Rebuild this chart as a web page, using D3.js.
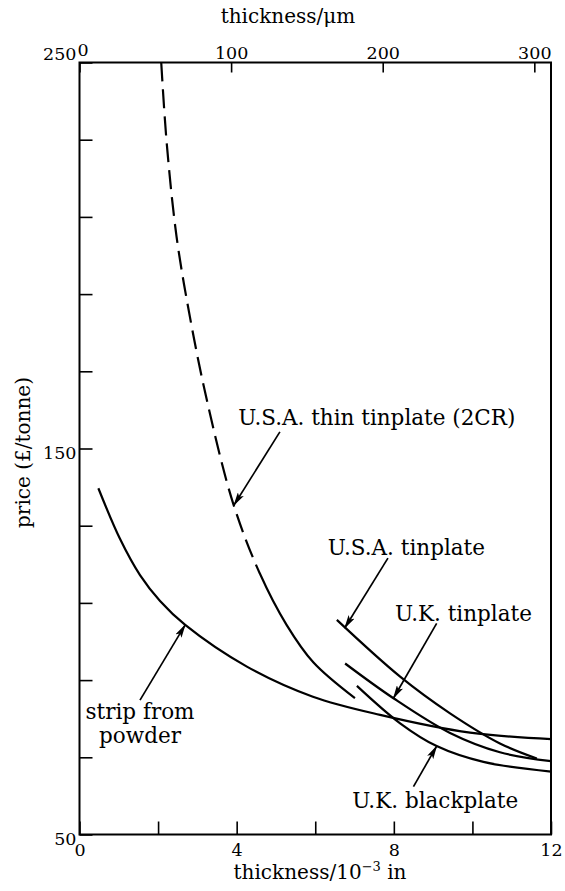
<!DOCTYPE html>
<html>
<head>
<meta charset="utf-8">
<script src="https://cdn.jsdelivr.net/npm/d3@7"></script>
<style>
  body { margin: 0; background: #fff; }
  svg { display: block; font-family: "DejaVu Serif", serif; }
</style>
</head>
<body>
<div id="chart"></div>
<script>
// values: [thickness (10^-3 in), price (£/tonne)]
const stripFromPowder = [[0.48, 139.7], [1.03, 126.6], [1.54, 117.2], [2.05, 110.5], [2.69, 104.3], [4.26, 93.5], [5.94, 85.7], [7.65, 81.0], [9.94, 76.4], [12, 74.7]];
const usaThin2CR = [[2.08, 250], [2.22, 229.1], [2.47, 204.9], [2.81, 184.1], [3.24, 162.6], [3.91, 135.8], [4.59, 117.6], [5.27, 104.3], [5.95, 94.6], [7.01, 85.3]];
const usaThinDashedUntil = 4.57; // below this thickness the 2CR curve is drawn dashed
const usaTinplate = [[6.55, 105.6], [8.16, 90.9], [9.43, 81.4], [10.7, 73.6], [11.64, 69.7]];
const ukTinplate = [[6.76, 94.3], [7.99, 85.3], [9.43, 76.3], [10.7, 71.3], [12, 69.0]];
const ukBlackplate = [[7.06, 88.5], [8.16, 78.8], [9.09, 72.9], [10.28, 68.8], [12, 66.3]];

const xTicks = [0, 2, 4, 6, 8, 10, 12];
const xTickLabels = [0, 4, 8, 12];
const yTicks = [50, 70, 90, 110, 130, 150, 170, 190, 210, 230, 250];
const yTickLabels = [50, 150, 250];
const umTicks = [0, 100, 200, 300];

// labels and arrows, in data units
const notes = [
  { lines: ["U.S.A. thin tinplate (2CR)"], at: [4.04, 156.1], anchor: "start" },
  { lines: ["U.S.A. tinplate"], at: [6.32, 122.4], anchor: "start" },
  { lines: ["U.K. tinplate"], at: [8.03, 105.3], anchor: "start" },
  { lines: ["U.K. blackplate"], at: [6.94, 56.9], anchor: "start" },
  { lines: ["strip from", "powder"], at: [1.54, 79.9], anchor: "middle" }
];
const arrows = [
  { from: [5.10, 154.3], to: [3.93, 135.3] },
  { from: [7.85, 121.6], to: [6.75, 103.5] },
  { from: [9.09, 104.7], to: [7.99, 85.3] },
  { from: [8.50, 62.4], to: [9.09, 72.9] },
  { from: [1.54, 84.8], to: [2.69, 104.3] }
];

const width = 565, height = 891;
const margin = { top: 62.5, right: 14, bottom: 56.5, left: 79.5 };

const svg = d3.select("#chart")
  .append("svg")
    .attr("width", width)
    .attr("height", height);

const xScale = d3.scaleLinear()
  .domain([0, 12])
  .range([margin.left, width - margin.right]);

// the micrometre scale on top of the original is drawn a touch short
const xTopScale = d3.scaleLinear()
  .domain([0, 311])
  .range(xScale.range());

const yScale = d3.scaleLinear()
  .domain([50, 250])
  .range([height - margin.bottom, margin.top]);

const defs = svg.append("defs");

defs.append("marker")
    .attr("id", "head")
    .attr("viewBox", "0 0 14 7")
    .attr("refX", 13)
    .attr("refY", 3.5)
    .attr("markerWidth", 14)
    .attr("markerHeight", 7)
    .attr("markerUnits", "userSpaceOnUse")
    .attr("orient", "auto")
  .append("path")
    .attr("d", "M0,0L14,3.5L0,7L3,3.5Z")
    .attr("fill", "#000");

// split the 2CR curve into its dashed and solid parts
defs.append("clipPath").attr("id", "clip-dashed")
  .append("rect")
    .attr("x", 0).attr("y", 0)
    .attr("width", xScale(usaThinDashedUntil)).attr("height", height);
defs.append("clipPath").attr("id", "clip-solid")
  .append("rect")
    .attr("x", xScale(usaThinDashedUntil)).attr("y", 0)
    .attr("width", width).attr("height", height);

/* axes */
const bottomAxis = d3.axisBottom(xScale)
  .tickValues(xTicks)
  .tickSize(-13)
  .tickPadding(9)
  .tickFormat(d => xTickLabels.includes(d) ? d : "");

const topAxis = d3.axisTop(xTopScale)
  .tickValues(umTicks)
  .tickSize(-10)
  .tickPadding(4)
  .tickFormat(d => d);

const leftAxis = d3.axisLeft(yScale)
  .tickValues(yTicks)
  .tickSize(-13)
  .tickPadding(3)
  .tickFormat(d => yTickLabels.includes(d) ? d : "");

const gx = svg.append("g")
  .attr("transform", `translate(0, ${yScale(50)})`)
  .call(bottomAxis);

const gTop = svg.append("g")
  .attr("transform", `translate(0, ${yScale(250)})`)
  .call(topAxis);

const gy = svg.append("g")
  .attr("transform", `translate(${xScale(0)}, 0)`)
  .call(leftAxis);

[gx, gTop, gy].forEach(g => {
  g.attr("font-family", null).attr("font-size", null);
  g.select(".domain").remove();
  g.selectAll(".tick line").attr("stroke", "#000").attr("stroke-width", 1.6);
  g.selectAll(".tick text")
    .attr("fill", "#000")
    .style("font-family", "'DejaVu Serif', serif")
    .style("font-size", "17.5px");
});
gy.selectAll(".tick text").attr("dy", "0.56em");
gy.selectAll(".tick").filter(d => d === 250).select("text").attr("dy", "-0.2em");
gTop.selectAll(".tick").filter(d => d === 0).select("text").attr("dx", 3).attr("dy", "-0.15em");

// frame
svg.append("rect")
  .attr("x", xScale(0))
  .attr("y", yScale(250))
  .attr("width", xScale(12) - xScale(0))
  .attr("height", yScale(50) - yScale(250))
  .attr("fill", "none")
  .attr("stroke", "#000")
  .attr("stroke-width", 2);

/* axis titles */
svg.append("text")
  .attr("x", 288)
  .attr("y", 23)
  .attr("text-anchor", "middle")
  .attr("font-size", 20)
  .text("thickness/\u03BCm");

const xTitle = svg.append("text")
  .attr("x", 320)
  .attr("y", 879)
  .attr("text-anchor", "middle")
  .attr("font-size", 20);
xTitle.append("tspan").text("thickness/10");
xTitle.append("tspan").attr("dy", -8).attr("font-size", 13).text("\u22123");
xTitle.append("tspan").attr("dy", 8).text(" in");

svg.append("text")
  .attr("transform", `translate(30, ${(yScale(50) + yScale(250)) / 2 + 4}) rotate(-90)`)
  .attr("text-anchor", "middle")
  .attr("font-size", 20)
  .text("price (\u00A3/tonne)");

/* curves */
const lineGenerator = d3.line()
  .x(d => xScale(d[0]))
  .y(d => yScale(d[1]))
  .curve(d3.curveCatmullRom.alpha(0.5));

const curves = svg.append("g")
  .attr("fill", "none")
  .attr("stroke", "#000")
  .attr("stroke-width", 2.2);

curves.selectAll("path.solid")
  .data([stripFromPowder, usaTinplate, ukTinplate, ukBlackplate])
  .join("path")
    .attr("class", "solid")
    .attr("d", lineGenerator);

curves.append("path")
  .attr("d", lineGenerator(usaThin2CR))
  .attr("clip-path", "url(#clip-dashed)")
  .attr("stroke-dasharray", "19,8");

curves.append("path")
  .attr("d", lineGenerator(usaThin2CR))
  .attr("clip-path", "url(#clip-solid)");

/* annotations */
svg.append("g")
  .selectAll("line")
  .data(arrows)
  .join("line")
    .attr("x1", d => xScale(d.from[0]))
    .attr("y1", d => yScale(d.from[1]))
    .attr("x2", d => xScale(d.to[0]))
    .attr("y2", d => yScale(d.to[1]))
    .attr("stroke", "#000")
    .attr("stroke-width", 1.7)
    .attr("marker-end", "url(#head)");

const noteText = svg.append("g")
  .attr("font-size", 21.5)
  .selectAll("text")
  .data(notes)
  .join("text")
    .attr("x", d => xScale(d.at[0]))
    .attr("y", d => yScale(d.at[1]))
    .attr("text-anchor", d => d.anchor);

noteText.selectAll("tspan")
  .data(d => d.lines.map((t, i) => ({ t, i, x: xScale(d.at[0]) })))
  .join("tspan")
    .attr("x", d => d.x)
    .attr("dy", d => d.i === 0 ? 0 : 24)
    .text(d => d.t);
</script>
</body>
</html>
